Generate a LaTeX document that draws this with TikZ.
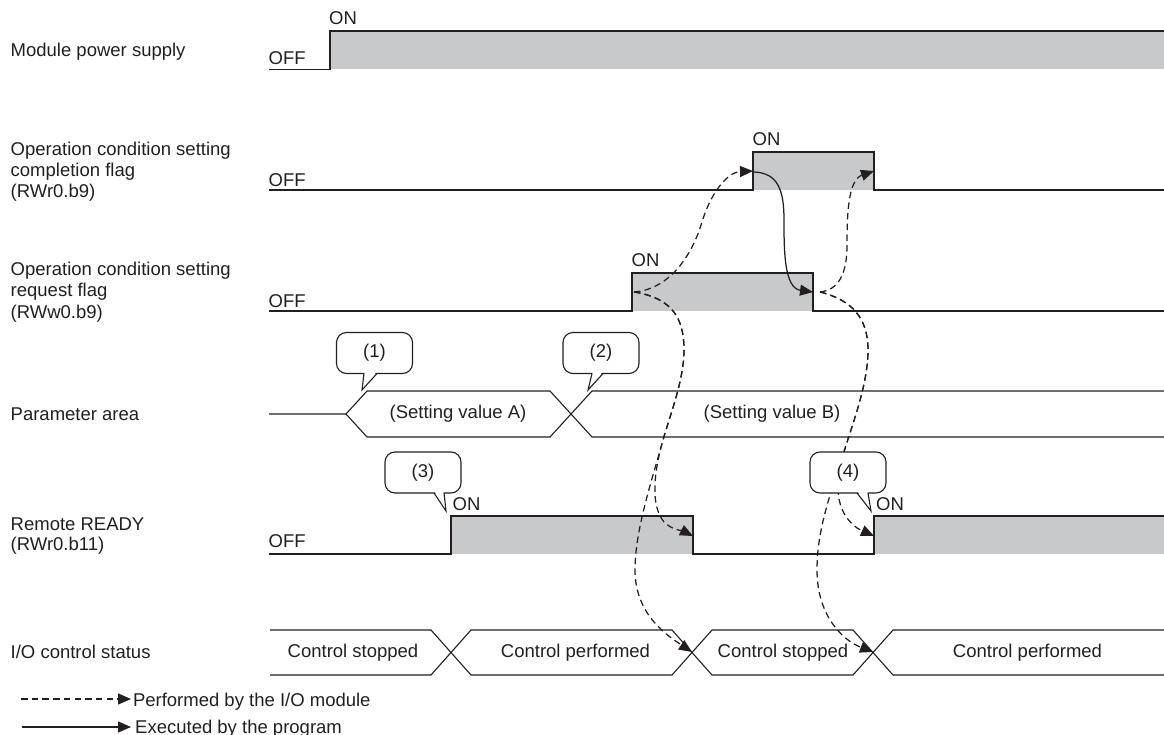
\documentclass[tikz,border=0pt]{standalone}
\usepackage{fontspec}
\setmainfont{Liberation Sans}
\usetikzlibrary{arrows.meta}
\definecolor{ink}{RGB}{35,31,32}
\definecolor{pulse}{RGB}{200,201,203}
\begin{document}
\begin{tikzpicture}[x=1pt,y=-1pt,color=ink,
  font=\fontsize{18.5}{21}\selectfont,
  wave/.style={line width=1.4pt},
  bus/.style={line width=1.1pt},
  iopath/.style={line width=1.25pt, dash pattern=on 6.5pt off 4.2pt, -{Triangle[length=13pt,width=11pt]}},
  progpath/.style={line width=1.25pt, -{Triangle[length=13pt,width=11pt]}},
  lbl/.style={anchor=base west, inner sep=0pt},
  ctext/.style={anchor=center, inner sep=0pt},
  callout/.style={draw, fill=white, line width=1.1pt, rounded corners=10pt,
    minimum width=76pt, minimum height=41pt, inner sep=0pt}]
\useasboundingbox (0,0) rectangle (1164,735);

% ---------- waveforms ----------
% Module power supply
\fill[pulse] (330,31) rectangle (1164,69.5);
\draw[wave] (269,69.5) -- (330,69.5) -- (330,31) -- (1164,31);
% Completion flag
\fill[pulse] (753,152) rectangle (874,190);
\draw[wave] (269,190) -- (753,190) -- (753,152) -- (874,152) -- (874,190) -- (1164,190);
% Request flag
\fill[pulse] (632,273) rectangle (813,311);
\draw[wave] (269,311) -- (632,311) -- (632,273) -- (813,273) -- (813,311) -- (1164,311);
% Remote READY
\fill[pulse] (451,516) rectangle (693,554);
\fill[pulse] (874,516) rectangle (1164,554);
\draw[wave] (269,554) -- (451,554) -- (451,516) -- (693,516) -- (693,554) -- (874,554) -- (874,516) -- (1164,516);

% ---------- bus shapes ----------
% Parameter area
\draw[bus] (269,414) -- (346,414) -- (367,391) -- (550,391) -- (592,437) -- (1164,437);
\draw[bus] (346,414) -- (367,437) -- (550,437) -- (592,391) -- (1164,391);
% I/O control status
\draw[bus] (270,630) -- (431,630) -- (471,675) -- (672,675) -- (712,630) -- (853,630) -- (893,675) -- (1164,675);
\draw[bus] (270,675) -- (431,675) -- (471,630) -- (672,630) -- (712,675) -- (853,675) -- (893,630) -- (1164,630);

% ---------- connector end points ----------
\coordinate (rqOn) at (634,292);
\coordinate (cpOn) at (753,171);
\coordinate (cpOnS) at (754,172);
\coordinate (rqOff) at (813,292);
\coordinate (rqOffS) at (820,292);
\coordinate (cpOff) at (874,171);
\coordinate (rrOff) at (693,536);
\coordinate (rrOn) at (874,536);
\coordinate (ioXa) at (692,652);
\coordinate (ioXb) at (873,652);

% ---------- connectors ----------
\draw[iopath] (rqOn) .. controls (665,290) and (690,262) .. (702,222)
  .. controls (711,192) and (728,172) .. (cpOn);
\draw[iopath] (rqOn) .. controls (672,298) and (684,318) .. (684,350)
  .. controls (684,380) and (670,415) .. (663,440)
  .. controls (654,472) and (650,505) .. (664,522)
  .. controls (672,530) and (683,531) .. (rrOff);
\draw[iopath] (rqOn) .. controls (672,298) and (684,318) .. (684,350)
  .. controls (684,380) and (670,415) .. (663,440)
  .. controls (652,480) and (635,530) .. (635,570)
  .. controls (635,615) and (668,636) .. (ioXa);
\draw[progpath] (cpOnS) .. controls (778,173) and (784,190) .. (784,220)
  .. controls (784,250) and (784,288) .. (rqOff);
\draw[iopath] (rqOffS) .. controls (838,290) and (847,275) .. (847,245)
  .. controls (847,215) and (848,180) .. (cpOff);
\draw[iopath] (rqOffS) .. controls (852,300) and (868,318) .. (868,350)
  .. controls (868,385) and (852,425) .. (843,455)
  .. controls (836,480) and (836,500) .. (845,515)
  .. controls (853,528) and (863,531) .. (rrOn);
\draw[iopath] (rqOffS) .. controls (852,300) and (868,318) .. (868,350)
  .. controls (868,385) and (852,425) .. (843,455)
  .. controls (830,495) and (817,530) .. (817,570)
  .. controls (817,615) and (842,640) .. (ioXb);

% ---------- left labels ----------
\node[lbl] (tMod) at (10.5,56.7) {Module power supply};
\node[lbl] (tCa) at (10.5,156) {Operation condition setting};
\node[lbl] (tCb) at (10.5,177) {completion flag};
\node[lbl] (tCc) at (10.5,198) {(RWr0.b9)};
\node[lbl] (tRa) at (10.5,276) {Operation condition setting};
\node[lbl] (tRb) at (10.5,297) {request flag};
\node[lbl] (tRc) at (10.5,318) {(RWw0.b9)};
\node[lbl] (tPar) at (10.5,420.6) {Parameter area};
\node[lbl] (tRRa) at (10.5,530) {Remote READY};
\node[lbl] (tRRb) at (10.5,550.5) {(RWr0.b11)};
\node[lbl] (tIO) at (10.5,658.4) {I/O control status};

% ---------- ON / OFF ----------
\node[lbl] (offM) at (268.5,65) {OFF};
\node[lbl] (onM) at (329,25) {ON};
\node[lbl] (offC) at (268.5,186.5) {OFF};
\node[lbl] (onC) at (752.5,146) {ON};
\node[lbl] (offR) at (268.5,307) {OFF};
\node[lbl] (onR) at (631.5,267) {ON};
\node[lbl] (offRR) at (268.5,547) {OFF};
\node[lbl] (onRRa) at (452.5,510.5) {ON};
\node[lbl] (onRRb) at (876,510.5) {ON};

% ---------- bus texts ----------
\node[ctext] (pA) at (458,414) {(Setting value A)};
\node[ctext] (pB) at (772,414) {(Setting value B)};
\node[ctext] (ioA) at (353,652.5) {Control stopped};
\node[ctext] (ioB) at (575.5,652.5) {Control performed};
\node[ctext] (ioC) at (783,652.5) {Control stopped};
\node[ctext] (ioD) at (1027.5,652.5) {Control performed};

% ---------- callouts ----------
\node[callout] (c1) at (374.5,353) {(1)};
\fill[white] (364.6,372) -- (376.4,372) -- (362,390) -- cycle;
\draw[bus] (364,373.5) -- (362,390) -- (377,373.5);

\node[callout] (c2) at (601,353) {(2)};
\fill[white] (592.6,372) -- (602.4,372) -- (588,390) -- cycle;
\draw[bus] (592,373.5) -- (588,390) -- (603,373.5);

\node[callout] (c3) at (423,472.5) {(3)};
\fill[white] (434.6,491.5) -- (443.4,491.5) -- (446,511) -- cycle;
\draw[bus] (434,493) -- (446,511) -- (444,493);

\node[callout] (c4) at (848,472.5) {(4)};
\fill[white] (857.6,491.5) -- (867.4,491.5) -- (871,511) -- cycle;
\draw[bus] (857,493) -- (871,511) -- (868,493);

% ---------- legend ----------
\coordinate (lgA) at (21,699);
\coordinate (lgB) at (131,699);
\draw[iopath] (lgA) -- (lgB);
\node[lbl] (lgTa) at (132.8,706) {Performed by the I/O module};
\coordinate (lgC) at (22,727);
\coordinate (lgD) at (131,727);
\draw[progpath] (lgC) -- (lgD);
\node[lbl] (lgTb) at (135,733.3) {Executed by the program};
\end{tikzpicture}
\end{document}
